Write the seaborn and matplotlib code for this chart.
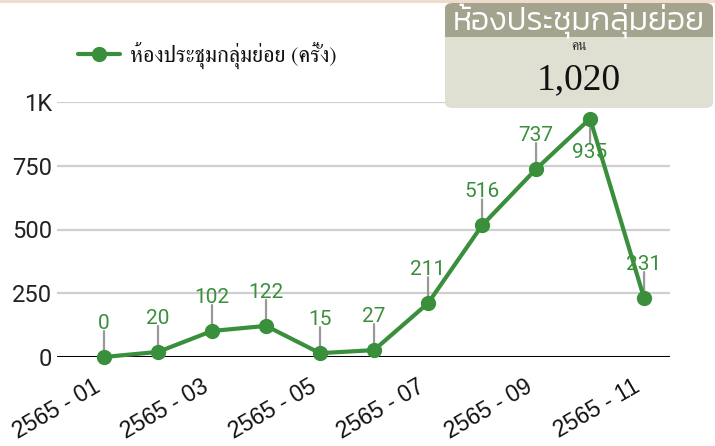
import matplotlib
matplotlib.use("Agg")
import matplotlib.pyplot as plt
from matplotlib.patches import FancyBboxPatch, Rectangle
from matplotlib.lines import Line2D
import seaborn as sns
import pandas as pd

# ---- data ----
months = ["2565 - 01", "2565 - 02", "2565 - 03", "2565 - 04", "2565 - 05", "2565 - 06",
          "2565 - 07", "2565 - 08", "2565 - 09", "2565 - 10", "2565 - 11"]
values = [0, 20, 102, 122, 15, 27, 211, 516, 737, 935, 231]
series_name = "ห้องประชุมกลุ่มย่อย (ครั้ง)"
y_ticks = [0, 250, 500, 750, 1000]
y_tick_labels = ["0", "250", "500", "750", "1K"]
tooltip_title = "ห้องประชุมกลุ่มย่อย"
tooltip_unit = "คน"
tooltip_value = "1,020"

GREEN = "#3a8f3c"
sns.set_theme(style="white")
plt.rcParams["font.family"] = ["Roboto", "DejaVu Sans"]

df = pd.DataFrame({"month": months, "value": values, "idx": range(len(months))})

fig = plt.figure(figsize=(7.15, 4.46), dpi=100)
ax = fig.add_axes([57 / 715, 89 / 446, (670 - 57) / 715, (357 - 102) / 446])

sns.lineplot(data=df, x="idx", y="value", ax=ax, color=GREEN, linewidth=3,
             marker="o", markersize=11, markeredgewidth=0, clip_on=False, zorder=5)

ax.set_xlim(-0.87, 10.48)
ax.set_ylim(0, 1000)
ax.tick_params(axis="x", length=0, pad=13)
ax.tick_params(axis="y", length=0, pad=3.5)
ax.set_yticks(y_ticks)
ax.set_yticklabels(y_tick_labels, fontsize=17, color="#222222")
ax.set_xticks(df["idx"][::2])
ax.set_xticklabels(df["month"][::2], rotation=30, ha="right", va="top",
                   rotation_mode="default", fontsize=16.5, color="#111111",
                   family=["Liberation Sans", "DejaVu Sans"])
ax.set_xlabel("")
ax.set_ylabel("")
for s in ax.spines.values():
    s.set_visible(False)
for t in y_ticks[1:]:
    ax.axhline(t, color="#cfcfcf", linewidth=1.6, zorder=1)
ax.axhline(0, color="#000000", linewidth=2.2, zorder=2)

# value labels with leader lines
for i, v in enumerate(values):
    if i == 9:
        ax.annotate("", (i, v), xytext=(0, -24), textcoords="offset pixels",
                    arrowprops=dict(arrowstyle="-", color="#999999", lw=1.6,
                                    shrinkA=0, shrinkB=0), zorder=3,
                    annotation_clip=False)
        ax.annotate(str(v), (i, v), xytext=(0, -24), textcoords="offset pixels",
                    ha="center", va="top", fontsize=15, color=GREEN, zorder=6,
                    annotation_clip=False)
    else:
        ax.annotate("", (i, v), xytext=(0, 26), textcoords="offset pixels",
                    arrowprops=dict(arrowstyle="-", color="#999999", lw=1.6,
                                    shrinkA=0, shrinkB=0), zorder=3,
                    annotation_clip=False)
        ax.annotate(str(v), (i, v), xytext=(0, 24), textcoords="offset pixels",
                    ha="center", va="bottom", fontsize=15, color=GREEN, zorder=6,
                    annotation_clip=False)

# legend
handle = Line2D([], [], color=GREEN, lw=3, marker="o", markersize=11, markeredgewidth=0)
leg = fig.legend([handle], [series_name], loc="center left",
                 bbox_to_anchor=(78 / 715, 1 - 55 / 446), frameon=False,
                 borderpad=0, borderaxespad=0,
                 handlelength=1.9, handletextpad=0.45,
                 prop={"family": ["FreeSerif", "DejaVu Sans"], "size": 16})
for t in leg.get_texts():
    t.set_color("#111111")

# top border
fig.add_artist(Line2D([0, 1], [1 - 1 / 446, 1 - 1 / 446], transform=fig.transFigure,
                      color="#efd9c9", lw=2))

# tooltip box
bx0, by0, bx1, by1 = 445, 3, 713, 108
box = FancyBboxPatch((bx0 / 715, 1 - by1 / 446), (bx1 - bx0) / 715, (by1 - by0) / 446,
                     boxstyle="round,pad=0,rounding_size=0.012", transform=fig.transFigure,
                     facecolor="#dfdfd2", edgecolor="none", zorder=10)
fig.add_artist(box)
head = FancyBboxPatch((bx0 / 715, 1 - 37 / 446), (bx1 - bx0) / 715, (37 - by0) / 446,
                      boxstyle="round,pad=0,rounding_size=0.012", transform=fig.transFigure,
                      facecolor="#a4a48e", edgecolor="none", zorder=11)
fig.add_artist(head)
fig.add_artist(Rectangle((bx0 / 715, 1 - 37 / 446), (bx1 - bx0) / 715, 10 / 446,
                         transform=fig.transFigure, facecolor="#a4a48e",
                         edgecolor="none", zorder=11))
fig.text((bx0 + bx1) / 2 / 715, 1 - 21 / 446, tooltip_title, ha="center", va="center",
         color="white", fontsize=23, family=["Kanit", "Noto Sans Thai", "DejaVu Sans"],
         weight=300, zorder=12)
fig.text((bx0 + bx1) / 2 / 715, 1 - 46 / 446, tooltip_unit, ha="center", va="center",
         color="#333333", fontsize=10, family=["FreeSerif", "DejaVu Sans"], zorder=12)
fig.text((bx0 + bx1) / 2 / 715, 1 - 80 / 446, tooltip_value, ha="center", va="center",
         color="#111111", fontsize=27, family=["Liberation Serif", "DejaVu Serif"], zorder=12)

fig.savefig("out.png", dpi=100)
